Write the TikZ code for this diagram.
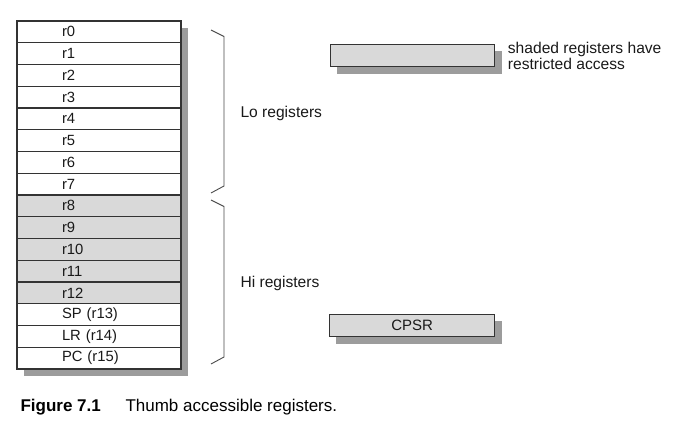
\documentclass[tikz,border=0pt]{standalone}
\usepackage{fontspec}
\setmainfont{Liberation Sans}
\usepackage{tikz}
\usetikzlibrary{positioning, calc, backgrounds}

\definecolor{regline}{HTML}{333333}
\definecolor{regshade}{HTML}{D9D9D9}
\definecolor{shadowgray}{HTML}{9C9C9C}
\definecolor{bracegray}{HTML}{4A4A4A}

\tikzset{
  reg/.style={draw=regline, line width=1.4pt, rectangle, outer sep=0pt,
    minimum width=164pt, minimum height=21.75pt, inner xsep=45pt, inner ysep=0pt,
    text width=74pt, align=left, anchor=north west, text=black!90,
    font=\fontsize{14.8}{16}\selectfont},
  flagbox/.style={draw=regline, line width=1.4pt, rectangle, fill=regshade,
    minimum height=22pt, anchor=north west, inner sep=0pt, text=black!90,
    font=\fontsize{15}{16}\selectfont},
  shadowbox/.style={fill=shadowgray},
  bracepath/.style={draw=bracegray, line width=0.9pt},
  sidelabel/.style={anchor=west, text=black!90, font=\fontsize{15.6}{16.5}\selectfont},
  caption/.style={anchor=west, font=\fontsize{17}{19}\selectfont}
}

\begin{document}
\begin{tikzpicture}[x=1pt, y=-1pt]

% === Drawing region ===
\useasboundingbox (0,0) rectangle (674,423);

% === Register column ===
\foreach \lbl [count=\i from 0] in {r0,r1,r2,r3,r4,r5,r6,r7,r8,r9,r10,r11,r12,SP (r13),LR (r14),PC (r15)} {
  \ifnum\i<8 \def\regfill{white}\else\ifnum\i<13 \def\regfill{regshade}\else\def\regfill{white}\fi\fi
  \node[reg, fill=\regfill] (reg\i) at (17,{21+21.75*\i}) {\lbl};
}

% === Shaded key and CPSR ===
\node[flagbox, minimum width=164pt] (legend) at (330,44) {};
\node[sidelabel, align=left, right=9pt of legend] (legendtext) {shaded registers have\\restricted access};

\node[flagbox, minimum width=165pt] (cpsr) at (329,314) {CPSR};

% Drop shadows
\begin{scope}[on background layer]
  \fill[shadowbox] ($(reg0.north west)+(7,7)$) rectangle ($(reg15.south east)+(7,7)$);
  \fill[shadowbox] ($(legend.north west)+(7,7)$) rectangle ($(legend.south east)+(7,7)$);
  \fill[shadowbox] ($(cpsr.north west)+(7,7)$) rectangle ($(cpsr.south east)+(7,7)$);
\end{scope}

% === Braces ===
\draw[bracepath] (211,30) -- (224,36.5) -- (224,186) -- (211,193);
\draw[bracepath] (211,200) -- (224,206.5) -- (224,357) -- (211,364);

\node[sidelabel] (lolabel) at (237,113) {Lo registers};
\node[sidelabel] (hilabel) at (237,283) {Hi registers};

% === Caption ===
\node[caption, font=\fontsize{17}{19}\selectfont\bfseries] (figlabel) at (17,407) {Figure 7.1};
\node[caption] (figtitle) at (122,407) {Thumb accessible registers.};

\end{tikzpicture}
\end{document}
